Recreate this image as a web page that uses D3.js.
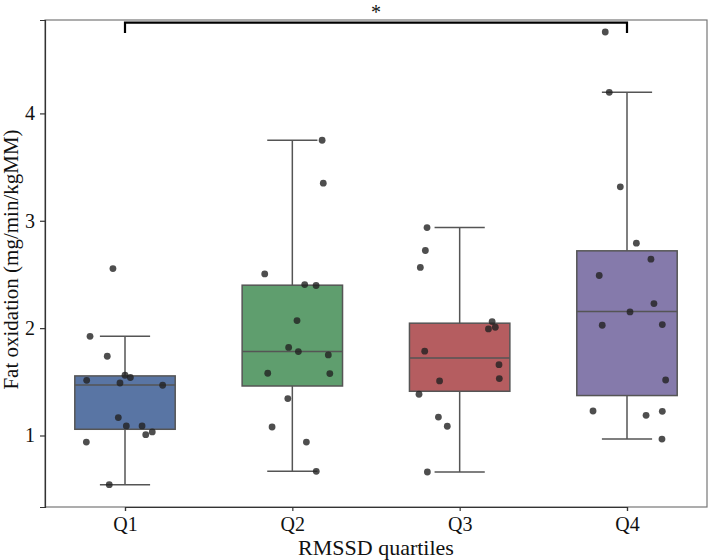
<!DOCTYPE html>
<html>
<head>
<meta charset="utf-8">
<script src="https://cdn.jsdelivr.net/npm/d3@7"></script>
<style>
  body { margin: 0; background: #fff; }
  svg { display: block; font-family: "Liberation Serif", "Times New Roman", serif; }
</style>
</head>
<body>
<div id="chart"></div>
<script>
// Categories and box statistics
const groups = ["Q1", "Q2", "Q3", "Q4"];
const colors = ["#5975a4", "#5f9e6e", "#b55d60", "#857aab"];
const q1Vals = [1.058, 1.461, 1.412, 1.372];
const medians = [1.471, 1.782, 1.722, 2.155];
const q3Vals = [1.555, 2.40, 2.046, 2.72];
const whiskLo = [0.542, 0.666, 0.66, 0.967];
const whiskHi = [1.924, 3.75, 2.937, 4.196];

// Individual observations, with strip-plot jitter (fraction of category step)
const q1Points = [2.555, 1.924, 1.738, 1.514, 1.561, 1.54, 1.489, 1.468, 1.167, 1.089, 1.089, 1.008, 1.033, 0.939, 0.542];
const q1Jitter = [-0.072, -0.209, -0.106, -0.229, 0, 0.032, -0.03, 0.225, -0.04, 0.008, 0.102, 0.124, 0.163, -0.231, -0.094];
const q2Points = [3.75, 3.35, 2.505, 2.406, 2.397, 2.07, 1.82, 1.782, 1.75, 1.58, 1.577, 1.344, 1.079, 0.939, 0.666];
const q2Jitter = [0.178, 0.185, -0.165, 0.074, 0.142, 0.028, -0.022, 0.036, 0.215, -0.147, 0.224, -0.027, -0.121, 0.084, 0.143];
const q3Points = [2.937, 2.723, 2.565, 2.061, 1.993, 2.008, 1.785, 1.66, 1.53, 1.508, 1.384, 1.172, 1.086, 0.66];
const q3Jitter = [-0.195, -0.205, -0.235, 0.194, 0.172, 0.213, -0.209, 0.235, 0.237, -0.12, -0.243, -0.127, -0.074, -0.193];
const q4Points = [4.758, 4.196, 3.316, 2.791, 2.642, 2.49, 2.229, 2.151, 2.027, 2.033, 1.517, 1.228, 1.188, 1.225, 0.967];
const q4Jitter = [-0.13, -0.106, -0.04, 0.056, 0.143, -0.166, 0.161, 0.018, -0.148, 0.211, 0.231, -0.203, 0.114, 0.211, 0.209];

const yTicks = [1, 2, 3, 4];
const sigPair = ["Q1", "Q4"];
const sigLabel = "*";

const W = 708, H = 560;
const margin = {top: 20, right: 1, bottom: 53, left: 45};
const innerW = W - margin.left - margin.right,
      innerH = H - margin.top - margin.bottom;

const svg = d3.select("#chart").append("svg")
    .attr("width", W)
    .attr("height", H);
const g = svg.append("g")
    .attr("transform", `translate(${margin.left},${margin.top})`);

const x = d3.scalePoint()
    .domain(groups)
    .range([80, innerW - 80]);
const step = x.step();
const boxW = step * 0.6;

const y = d3.scaleLinear()
    .domain([0.334, 4.87])
    .range([innerH, 0]);

// frame
g.append("rect")
    .attr("width", innerW).attr("height", innerH)
    .attr("fill", "none").attr("stroke", "#777").attr("stroke-width", 1.2);

const boxes = groups.map((k, i) => ({
    key: k, color: colors[i],
    lo: whiskLo[i], q1: q1Vals[i], med: medians[i], q3: q3Vals[i], hi: whiskHi[i]
}));

const lineCol = "#555";
boxes.forEach(b => {
    const cx = x(b.key);
    // whiskers
    g.append("line").attr("x1", cx).attr("x2", cx)
        .attr("y1", y(b.q3)).attr("y2", y(b.hi))
        .attr("stroke", lineCol).attr("stroke-width", 1.5);
    g.append("line").attr("x1", cx).attr("x2", cx)
        .attr("y1", y(b.q1)).attr("y2", y(b.lo))
        .attr("stroke", lineCol).attr("stroke-width", 1.5);
    [b.lo, b.hi].forEach(v => {
        g.append("line")
            .attr("x1", cx - boxW / 4).attr("x2", cx + boxW / 4)
            .attr("y1", y(v)).attr("y2", y(v))
            .attr("stroke", lineCol).attr("stroke-width", 1.5);
    });
    // box
    g.append("rect")
        .attr("x", cx - boxW / 2).attr("width", boxW)
        .attr("y", y(b.q3)).attr("height", y(b.q1) - y(b.q3))
        .attr("fill", b.color)
        .attr("stroke", lineCol).attr("stroke-width", 1.5);
    g.append("line")
        .attr("x1", cx - boxW / 2).attr("x2", cx + boxW / 2)
        .attr("y1", y(b.med)).attr("y2", y(b.med))
        .attr("stroke", lineCol).attr("stroke-width", 1.5);
});

// strip points
const allPoints = [];
[[q1Points, q1Jitter], [q2Points, q2Jitter], [q3Points, q3Jitter], [q4Points, q4Jitter]]
    .forEach(([vals, jit], i) => {
        vals.forEach((v, j) => allPoints.push({key: groups[i], v: v, j: jit[j]}));
    });

g.selectAll("circle.pt")
    .data(allPoints)
    .enter().append("circle")
    .attr("class", "pt")
    .attr("cx", d => x(d.key) + d.j * step)
    .attr("cy", d => y(d.v))
    .attr("r", 3.4)
    .attr("fill", "#222")
    .attr("fill-opacity", 0.8);

// axes
const yAxis = g.append("g")
    .call(d3.axisLeft(y).tickValues(yTicks).tickFormat(d3.format("d")).tickSize(5).tickPadding(5));
const xAxis = g.append("g")
    .attr("transform", `translate(0,${innerH})`)
    .call(d3.axisBottom(x).tickSize(4).tickPadding(6));
[yAxis, xAxis].forEach(a => {
    a.attr("font-family", "Liberation Serif").attr("font-size", 20);
    a.select(".domain").attr("stroke", "#333").attr("stroke-width", 1.2);
    a.selectAll(".tick line").attr("stroke", "#333").attr("stroke-width", 1.2);
    a.selectAll(".tick text").attr("fill", "#111");
});

// axis labels
svg.append("text")
    .attr("x", margin.left + innerW / 2).attr("y", 555)
    .attr("text-anchor", "middle")
    .attr("font-size", 22).attr("fill", "#111")
    .text("RMSSD quartiles");
svg.append("text")
    .attr("transform", `translate(18,${margin.top + innerH / 2 - 4}) rotate(-90)`)
    .attr("text-anchor", "middle")
    .attr("font-size", 21).attr("fill", "#111")
    .text("Fat oxidation (mg/min/kgMM)");

// significance bracket
const bTop = y(4.845), bBot = y(4.75);
const xa = x(sigPair[0]), xb = x(sigPair[1]);
g.append("path")
    .attr("d", `M${xa},${bBot}V${bTop}H${xb}V${bBot}`)
    .attr("fill", "none").attr("stroke", "#000").attr("stroke-width", 2.2);
svg.append("text")
    .attr("x", margin.left + (xa + xb) / 2).attr("y", 19)
    .attr("text-anchor", "middle")
    .attr("font-size", 20).attr("fill", "#111")
    .text(sigLabel);
</script>
</body>
</html>
